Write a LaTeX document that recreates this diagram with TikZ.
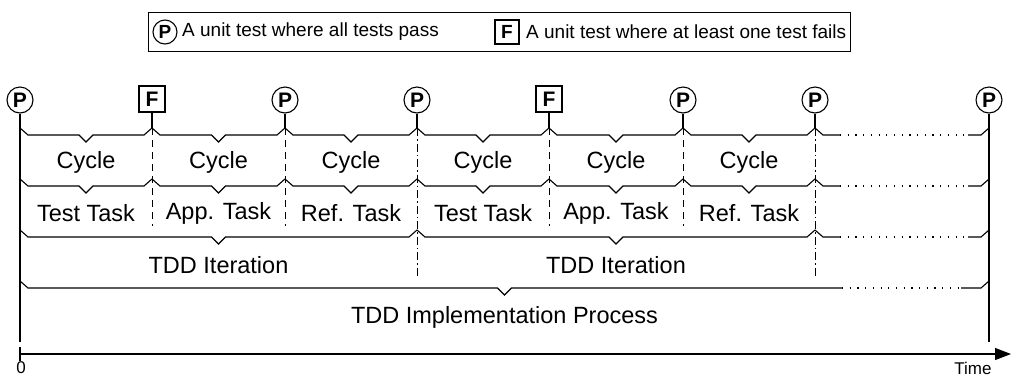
\documentclass[tikz,border=0pt]{standalone}
\usepackage{fontspec}
\setmainfont{Liberation Sans}
\usetikzlibrary{arrows.meta,fit}
\newcommand\bracedn[3]{% x1, x2, ytop
  \draw[ln] ({#1},{#3}) -- ++(8,7) -- ({(#1+#2)/2-7},{#3+7}) -- ++(7,7) -- ++(7,-7) -- ({#2-8},{#3+7}) -- ({#2},{#3});}
\newcommand\braceopen[2]{% x1, ytop : unfinished part to x=989
  \draw[ln] ({#1},{#2}) -- ++(8,7) -- (840,{#2+7});
  \draw[dotln] (840,{#2+7}) -- (968,{#2+7});
  \draw[ln] (968,{#2+7}) -- (981,{#2+7}) -- (989,{#2});}
\begin{document}
\begin{tikzpicture}[x=1pt,y=-1pt,
  ln/.style={line width=1.1pt,line join=miter},
  dotln/.style={line width=1.1pt,dash pattern=on 1.2pt off 6.5pt},
  dsh/.style={line width=0.9pt,dash pattern=on 7pt off 5pt},
  dshdot/.style={line width=0.9pt,dash pattern=on 8pt off 3pt on 1.5pt off 3pt},
  pmark/.style={circle,draw,line width=1.1pt,minimum size=26pt,inner sep=0pt,font=\fontsize{21}{21}\selectfont\bfseries},
  fmark/.style={rectangle,draw,line width=1.1pt,minimum size=26pt,inner sep=0pt,font=\fontsize{21}{21}\selectfont\bfseries},
  lbl/.style={inner sep=0pt,font=\fontsize{23.5}{26}\selectfont},
  legtxt/.style={inner sep=0pt,font=\fontsize{19}{22}\selectfont},
  small/.style={inner sep=0pt,font=\fontsize{17}{19}\selectfont}]
\useasboundingbox (0,0) rectangle (1011,376);

% legend
\node[pmark,minimum size=24pt,font=\fontsize{19}{19}\selectfont\bfseries] (lp) at (165,32) {P};
\node[legtxt,anchor=west] (lt1) at (182,32) {A unit test where all tests pass};
\node[fmark,minimum size=24pt,font=\fontsize{19}{19}\selectfont\bfseries] (lf) at (507,32) {F};
\node[legtxt,anchor=west] (lt2) at (526,32) {A unit test where at least one test fails};
\node[draw,line width=1.1pt,inner xsep=4pt,inner ysep=7pt,fit=(lp)(lt1)(lf)(lt2)] (legend) {};

% markers
\node[pmark] (m0) at (20,100) {P};
\node[fmark] (m1) at (152,99) {F};
\node[pmark] (m2) at (285,100) {P};
\node[pmark] (m3) at (417,100) {P};
\node[fmark] (m4) at (549,99) {F};
\node[pmark] (m5) at (683,100) {P};
\node[pmark] (m6) at (815,100) {P};
\node[pmark] (m7) at (989,100) {P};

% boundary lines
\coordinate (b0) at (20,342);
\coordinate (b7) at (989,342);
\draw[ln] (m0) -- (b0);
\draw[ln] (m7) -- (b7);
\foreach \i/\x/\e/\s in {1/152/226/dsh,2/285/226/dsh,3/417/277/dshdot,4/549/226/dsh,5/683/226/dsh,6/815/277/dshdot}{
  \coordinate (t\i) at (\x,128);
  \coordinate (d\i) at (\x,\e);
  \draw[ln] (m\i) -- (t\i);
  \draw[\s] (t\i) -- (d\i);
}

% row 1 : cycles
\foreach \a/\b in {20/152,152/285,285/417,417/549,549/683,683/815}{\bracedn{\a}{\b}{128}}
\braceopen{815}{128}
% row 2 : tasks
\foreach \a/\b in {20/152,152/285,285/417,417/549,549/683,683/815}{\bracedn{\a}{\b}{179}}
\braceopen{815}{179}
% row 3 : iterations
\bracedn{20}{417}{230}
\bracedn{417}{815}{230}
\braceopen{815}{230}
% row 4 : process
\draw[ln] (20,281) -- ++(8,7) -- (497.5,288) -- ++(7,7) -- ++(7,-7) -- (842,288);
\draw[dotln] (842,288) -- (961,288);
\draw[ln] (961,288) -- (981,288) -- (989,281);

% labels
\foreach \x/\n in {86/c1,218.5/c2,351/c3,483/c4,616/c5,749/c6}{\node[lbl] (\n) at (\x,162) {Cycle};}
\node[lbl] (k1) at (86,213) {Test Task};
\node[lbl] (k2) at (218.5,213) {App. Task};
\node[lbl] (k3) at (351,213) {Ref. Task};
\node[lbl] (k4) at (483,213) {Test Task};
\node[lbl] (k5) at (616,213) {App. Task};
\node[lbl] (k6) at (749,213) {Ref. Task};
\node[lbl] (it1) at (218.5,265) {TDD Iteration};
\node[lbl] (it2) at (616,265) {TDD Iteration};
\node[lbl] (proc) at (504.5,317) {TDD Implementation Process};

% time axis
\coordinate (ax0) at (20,354);
\coordinate (ax1) at (1011,354);
\coordinate (tk0) at (20,347);
\coordinate (tk1) at (20,361);
\draw[ln] (tk0) -- (tk1);
\draw[ln,-{Triangle[length=16pt,width=12pt]}] (ax0) -- (ax1);
\node[small] (zero) at (21,368) {0};
\node[small] (time) at (973,368) {Time};
\end{tikzpicture}
\end{document}
